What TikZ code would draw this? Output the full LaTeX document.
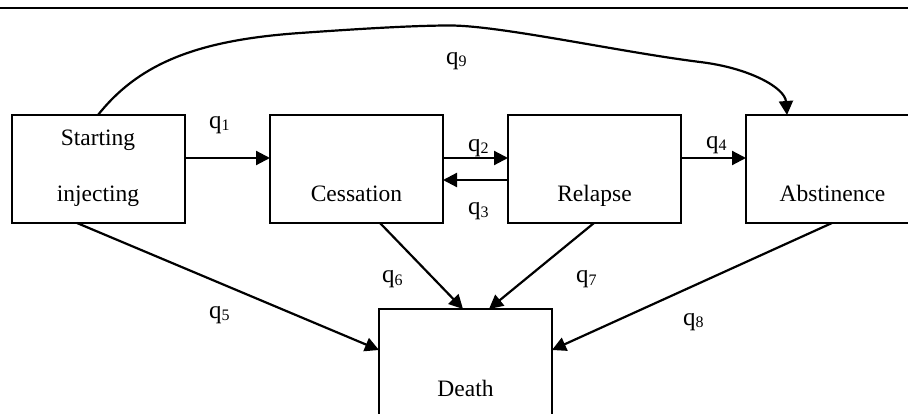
\documentclass[tikz,border=0pt]{standalone}
\usepackage{fontspec}
\setmainfont{Liberation Serif}
\usetikzlibrary{arrows.meta}
\begin{document}
\begin{tikzpicture}[x=1pt,y=-1pt,
  box/.style={draw,line width=1.6pt,minimum width=173pt,minimum height=108pt,inner sep=0pt,outer sep=0pt,anchor=north west},
  lbl/.style={font=\fontsize{23.5}{27}\selectfont,anchor=base,inner sep=0pt},
  ql/.style={font=\fontsize{25}{27}\selectfont,anchor=base west,inner sep=0pt},
  flow/.style={line width=2.2pt,-{Triangle[length=14pt,width=14pt]}}]
\newcommand{\qq}[1]{q\raisebox{-2pt}{\fontsize{16}{16}\selectfont #1}}
\useasboundingbox (0,0) rectangle (908,414);
\clip (0,0) rectangle (908,414);
\draw[line width=2.4pt] (0,8) -- (908,8);
\node[box] (start) at (12,115) {};
\node[box] (cess) at (270,115) {};
\node[box] (rel) at (508,115) {};
\node[box] (abst) at (746,115) {};
\node[box] (death) at (379,309) {};
\node[lbl] (t1) at (98,146) {Starting};
\node[lbl] (t2) at (98,202) {injecting};
\node[lbl] (t3) at (356.5,202) {Cessation};
\node[lbl] (t4) at (594.5,202) {Relapse};
\node[lbl] (t5) at (832.5,202) {Abstinence};
\node[lbl] (t6) at (465.5,396) {Death};
% connectors
\draw[flow] (start.east |- 0,158) -- (cess.west |- 0,158);
\draw[flow] (cess.east |- 0,158) -- (rel.west |- 0,158);
\draw[flow] (rel.west |- 0,180) -- (cess.east |- 0,180);
\draw[flow] (rel.east |- 0,158) -- (abst.west |- 0,158);
\draw[flow] (start.south -| 77,0) -- (death.west |- 0,350);
\draw[flow] (cess.south -| 380,0) -- (death.north -| 463,0);
\draw[flow] (rel.south -| 594,0) -- (death.north -| 489,0);
\draw[flow] (abst.south -| 832,0) -- (death.east |- 0,350);
\coordinate (q9s) at (start.north -| 98,0);
\coordinate (q9e) at (abst.north -| 787,0);
\draw[flow] (q9s) .. controls (140,62) and (200,40) .. (300,33)
  .. controls (350,29.5) and (410,25.5) .. (450,25.5)
  .. controls (500,25.5) and (620,52) .. (700,62)
  .. controls (750,68) and (785,88) .. (q9e);
% labels
\node[ql] (l1) at (209,129) {\qq{1}};
\node[ql] (l2) at (468,152) {\qq{2}};
\node[ql] (l3) at (468,215) {\qq{3}};
\node[ql] (l4) at (706,149) {\qq{4}};
\node[ql] (l5) at (209,318) {\qq{5}};
\node[ql] (l6) at (382,283) {\qq{6}};
\node[ql] (l7) at (576,283) {\qq{7}};
\node[ql] (l8) at (683,325) {\qq{8}};
\node[ql] (l9) at (446,65) {\qq{9}};
\end{tikzpicture}
\end{document}
